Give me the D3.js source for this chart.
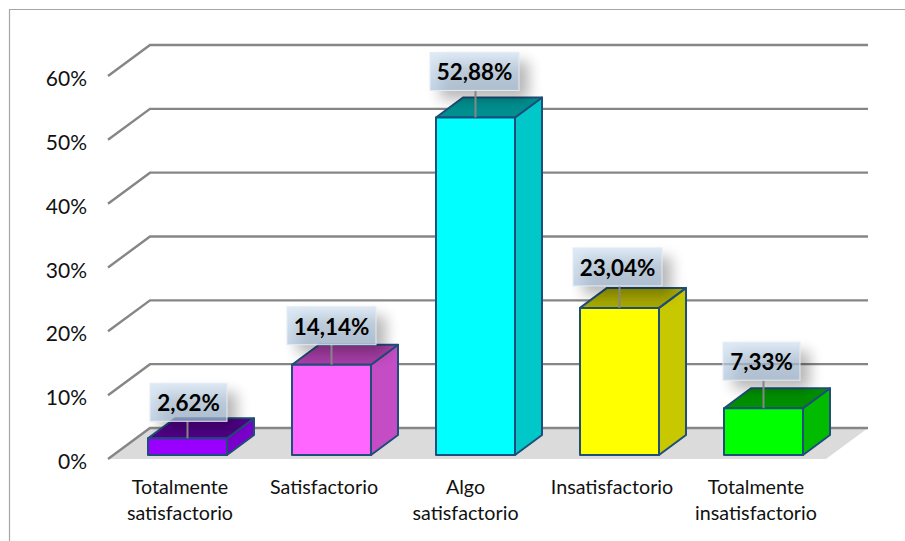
<!DOCTYPE html>
<html>
<head>
<meta charset="utf-8">
<script src="https://d3js.org/d3.v7.min.js"></script>
<style>
html,body{margin:0;padding:0;background:#fff;}
svg{display:block;font-family:Lato,"Open Sans",sans-serif;}
</style>
</head>
<body>
<script>
var categorias=[["Totalmente","satisfactorio"],["Satisfactorio"],["Algo","satisfactorio"],["Insatisfactorio"],["Totalmente","insatisfactorio"]];
var valores=[2.62,14.14,52.88,23.04,7.33];
var etiquetas=["2,62%","14,14%","52,88%","23,04%","7,33%"];
var ticks=[0,10,20,30,40,50,60];
var frente=["#9900ff","#ff66ff","#00ffff","#ffff00","#00ff00"];
var lado=["#7a00cc","#c44cc4","#00c8c8","#c8c800","#00bb00"];
var arriba=["#52008a","#a83ea8","#009090","#a8a800","#008f00"];

var w=905,h=541;
var svg=d3.select("body").append("svg").attr("width",w).attr("height",h);
var defs=svg.append("defs");
var grad=defs.append("linearGradient").attr("id","caja").attr("x1",0).attr("y1",0).attr("x2",0).attr("y2",1);
grad.append("stop").attr("offset",0).attr("stop-color","#cfe0f1");
grad.append("stop").attr("offset",1).attr("stop-color","#a9c1da");
defs.append("filter").attr("id","sombra").attr("x","-50%").attr("y","-50%").attr("width","200%").attr("height","200%")
  .append("feGaussianBlur").attr("stdDeviation",7);

// marco
svg.append("path").attr("d","M9.5,541V9.5H905").attr("fill","none").attr("stroke","#a6a6a6").attr("stroke-width",1.2);

// escalas: plano frontal de las paredes y plano de las barras
var yPared=d3.scaleLinear().domain([0,60]).range([459,76]);
var yBarra=d3.scaleLinear().domain([0,60]).range([455,72]);
var x=d3.scaleBand().domain(d3.range(valores.length)).range([148,803]).paddingInner(0.4514).paddingOuter(0);
var prof={x:42,y:-31}, pb={x:27,y:-20};

// piso
svg.append("path").attr("fill","#dcdbdb")
  .attr("d","M108,"+yPared(0)+"L"+(108+prof.x)+","+(yPared(0)+prof.y)+"H868L826,"+yPared(0)+"Z");

// lineas de la grilla
ticks.forEach(function(t){
  var y0=yPared(t);
  svg.append("path").attr("fill","none").attr("stroke","#868686").attr("stroke-width",2.4)
    .attr("d","M108,"+y0+"L"+(108+prof.x)+","+(y0+prof.y)+"H868");
  svg.append("text").attr("x",87).attr("y",y0+10).attr("text-anchor","end")
    .attr("font-size",21).attr("fill","#111").text(t+"%");
});

// barras
valores.forEach(function(v,i){
  var x0=x(i), x1=x0+x.bandwidth(), yt=yBarra(v), yb=yBarra(0);
  var g=svg.append("g").attr("stroke","#1f4e79").attr("stroke-width",2).attr("stroke-linejoin","round");
  g.append("path").attr("fill",lado[i]).attr("d","M"+x1+","+yt+"L"+(x1+pb.x)+","+(yt+pb.y)+"V"+(yb+pb.y)+"L"+x1+","+yb+"Z");
  g.append("path").attr("fill",arriba[i]).attr("d","M"+x0+","+yt+"L"+(x0+pb.x)+","+(yt+pb.y)+"H"+(x1+pb.x)+"L"+x1+","+yt+"Z");
  g.append("rect").attr("fill",frente[i]).attr("x",x0).attr("y",yt).attr("width",x.bandwidth()).attr("height",yb-yt);
});

// etiquetas de datos
var sobreBarra=[55,58,65,60,66], corrimiento=[1,0,-1,-2,-2];
valores.forEach(function(v,i){
  var centro=x(i)+x.bandwidth()/2, yt=yBarra(v);
  var cx=centro+corrimiento[i];
  var ancho=etiquetas[i].length>5?89:77, alto=38, top=yt-sobreBarra[i];
  svg.append("rect").attr("x",cx-ancho/2+10).attr("y",top+9).attr("width",ancho).attr("height",alto)
    .attr("fill","#000").attr("opacity",0.28).attr("filter","url(#sombra)");
  svg.append("line").attr("x1",centro).attr("x2",centro).attr("y1",top+alto).attr("y2",yt)
    .attr("stroke","#868686").attr("stroke-width",2);
  svg.append("rect").attr("x",cx-ancho/2).attr("y",top).attr("width",ancho).attr("height",alto)
    .attr("fill","url(#caja)").attr("fill-opacity",0.68).attr("stroke","#e3ecf5").attr("stroke-width",1);
  svg.append("text").attr("x",cx).attr("y",top+28).attr("text-anchor","middle")
    .attr("font-size",22.4).attr("font-weight",700).attr("fill","#000").text(etiquetas[i]);
});

// categorias
categorias.forEach(function(c,i){
  var cx=x(i)+x.bandwidth()/2+(i==2?-10:-7.5);
  c.forEach(function(linea,j){
    svg.append("text").attr("x",cx).attr("y",494+j*26).attr("text-anchor","middle")
      .attr("font-size",19.7).attr("fill","#111").text(linea);
  });
});
</script>
</body>
</html>
